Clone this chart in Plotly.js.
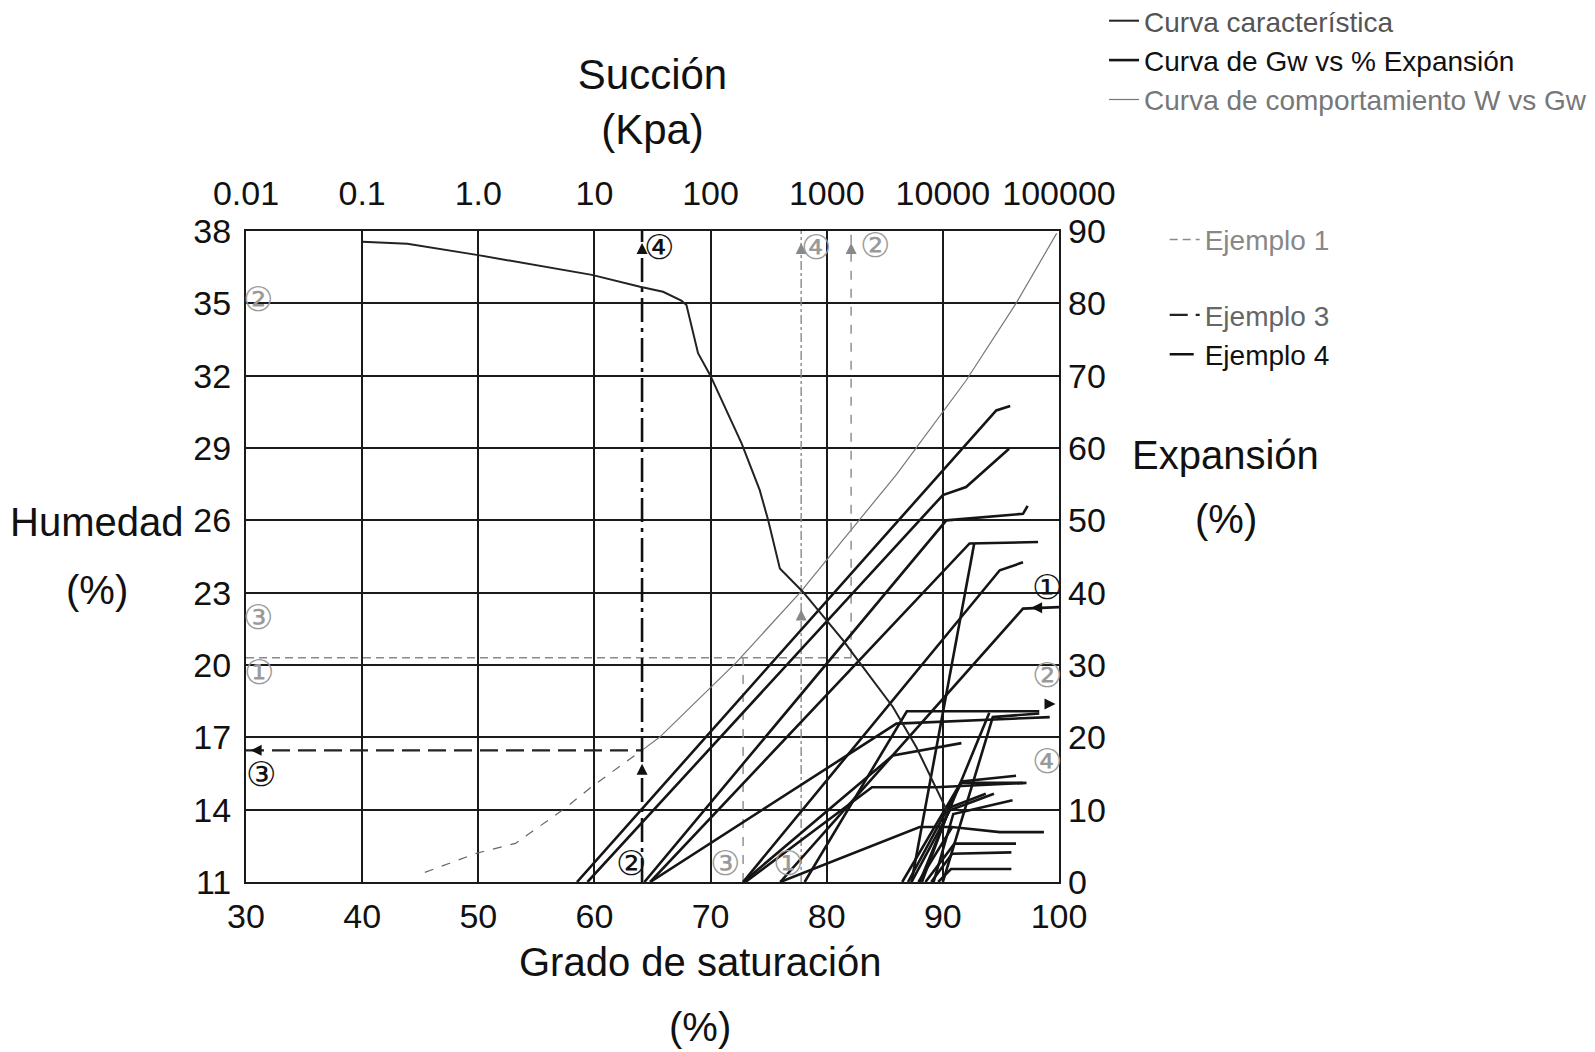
<!DOCTYPE html>
<html><head><meta charset="utf-8">
<script src="https://cdn.plot.ly/plotly-3.0.1.min.js"></script>
<style>html,body{margin:0;padding:0;background:#fff}#chart{width:1595px;height:1052px}</style>
</head><body><div id="chart"></div>
<script>
const FONT = '"Liberation Sans", Arial, sans-serif';
const CIRC = '"DejaVu Sans", "Noto Sans", sans-serif';

// ---- axes ----
const satTicks = [30, 40, 50, 60, 70, 80, 90, 100];
const humTicks = [11, 14, 17, 20, 23, 26, 29, 32, 35, 38];
const expTicks = [0, 10, 20, 30, 40, 50, 60, 70, 80, 90];
const suctionTicks = [0.01, 0.1, 1, 10, 100, 1000, 10000, 100000];
const suctionLabels = ['0.01', '0.1', '1.0', '10', '100', '1000', '10000', '100000'];

// ---- Curva característica (succión kPa vs humedad %) ----
const charSuction = [0.1, 0.245, 0.97, 9.5, 24.7, 39, 56, 62, 78, 99, 185, 265, 313, 395, 625, 1380, 1680, 3715, 5900, 9330, 11000];
const charHum = [37.55, 37.47, 37.01, 36.18, 35.69, 35.48, 35.11, 34.93, 32.93, 32.03, 29.19, 27.25, 26.01, 24.0, 23.03, 21.03, 20.47, 18.26, 16.6, 14.66, 13.9];

// ---- Curva de comportamiento W vs Gw (saturación % vs humedad %) ----
const wSatDash = [45.4, 49.9, 53.2, 57.3, 59.9, 62.2, 64.2];
const wHumDash = [11.4, 12.2, 12.6, 14.0, 15.0, 15.8, 16.5];
const wSat = [64.2, 65.6, 72.2, 77.7, 86.0, 92.0, 96.3, 99.8];
const wHum = [16.5, 17.0, 20.1, 23.0, 27.9, 31.8, 35.0, 37.9];

// ---- Curvas de Gw vs % Expansión (saturación % vs expansión %) ----
const gwSat = [
  [58.5, 94.6, 95.8],
  [59.4, 90.0, 92.0, 95.7],
  [64.3, 90.3, 96.9, 97.3],
  [64.8, 92.3, 98.2],
  [72.8, 94.9, 96.9],
  [76.0, 96.9, 100],
  [64.8, 86.0, 99.2],
  [72.8, 85.7, 91.6],
  [76.0, 88.0, 90.8],
  [78.1, 86.9, 98.3],
  [73.0, 83.9, 89.4, 97.2],
  [90.0, 94.3, 98.3],
  [87.3, 92.7],
  [89.6, 90.7, 95.9],
  [89.0, 90.8, 95.9],
  [88.5, 91.0, 96.3],
  [87.9, 90.8, 94.9, 98.7],
  [87.3, 90.6, 94.4],
  [88.2, 90.6, 93.7],
  [89.2, 90.9, 96.0],
  [86.5, 91.6, 96.3],
  [87.0, 91.6, 96.9],
  [88.0, 94.0]
];
const gwExp = [
  [0, 65.2, 65.8],
  [0, 53.5, 54.6, 59.9],
  [0, 50.0, 50.9, 52.0],
  [0, 46.8, 47.0],
  [0, 43.1, 44.2],
  [0, 37.8, 38.0],
  [0, 21.9, 22.8],
  [0, 17.5, 19.2],
  [0, 7.6, 7.6],
  [0, 23.6, 23.6],
  [0, 13.1, 13.1, 13.7],
  [0, 22.8, 23.3],
  [0, 46.8],
  [0, 1.8, 1.8],
  [0, 3.9, 4.1],
  [0, 5.3, 5.3],
  [0, 7.6, 6.9, 6.9],
  [0, 9.9, 12.2],
  [0, 10.3, 12.2],
  [0, 9.4, 11.3],
  [0, 13.9, 14.7],
  [0, 13.7, 13.7],
  [0, 23.4]
];

// ---- Ejemplos (saturación % vs humedad %) ----
const ej1Sat = [30, 82.1];   const ej1Hum = [20.3, 20.3];
const ej3Sat = [30, 64.1];   const ej3Hum = [16.46, 16.46];
const ej4Sat = [64.1, 64.1]; const ej4Hum = [11, 38];
const guideASat = [77.8, 77.8]; const guideAHum = [11, 38];
const guideBSat = [82.1, 82.1]; const guideBHum = [20.3, 38];
const guideCSat = [72.8, 72.8]; const guideCHum = [11, 20.3];

// arrows
const arrowSat = [64.1, 64.1, 30.4, 77.8, 77.8, 82.1];
const arrowHum = [37.5, 15.9, 16.46, 37.5, 22.3, 37.5];
const arrowSym = ['arrow-up', 'arrow-up', 'arrow-left', 'arrow-up', 'arrow-up', 'arrow-up'];
const arrowCol = ['#111', '#111', '#111', '#888', '#888', '#888'];
const arrowExpSat = [97.6, 99.7];
const arrowExp = [37.9, 24.6];
const arrowExpSym = ['arrow-left', 'arrow-right'];

// circled markers
const markText = ['④', '④', '②', '②', '③', '①', '③', '②', '③', '①', '①', '②', '④'];
const markSat = [65.6, 79.1, 84.2, 31.0, 31.0, 31.1, 31.25, 63.15, 71.2, 76.7, 99.0, 99.0, 99.0];
const markHum = [37.34, 37.34, 37.42, 35.2, 22.0, 19.7, 15.5, 11.77, 11.77, 11.77, 23.23, 19.57, 16.0];
const markBold = [true, false, false, false, false, false, true, true, false, false, true, false, false];

const traces = [];

traces.push({
  x: charSuction, y: charHum, xaxis: 'x2', yaxis: 'y', mode: 'lines',
  line: {color: '#222', width: 2},
  name: '<span style="color:#555">Curva característica</span>', legend: 'legend', showlegend: true
});

gwSat.forEach((s, i) => {
  traces.push({
    x: s, y: gwExp[i], xaxis: 'x', yaxis: 'y2', mode: 'lines',
    line: {color: '#151515', width: 2.6},
    name: '<span style="color:#111">Curva de Gw vs % Expansión</span>', legend: 'legend',
    legendgroup: 'gw', showlegend: i === 0
  });
});

traces.push({
  x: wSat, y: wHum, xaxis: 'x', yaxis: 'y', mode: 'lines',
  line: {color: '#777', width: 1.2},
  name: '<span style="color:#777">Curva de comportamiento W vs Gw</span>', legend: 'legend', showlegend: true
});
traces.push({
  x: wSatDash, y: wHumDash, xaxis: 'x', yaxis: 'y', mode: 'lines',
  line: {color: '#666', width: 1.2, dash: 'dash'}, showlegend: false
});

traces.push({
  x: ej1Sat, y: ej1Hum, xaxis: 'x', yaxis: 'y', mode: 'lines',
  line: {color: '#8a8a8a', width: 1.6, dash: '8px,5px'},
  name: '<span style="color:#888">Ejemplo 1</span>', legend: 'legend2', legendgroup: 'e1', showlegend: true
});
traces.push({
  x: ej3Sat, y: ej3Hum, xaxis: 'x', yaxis: 'y', mode: 'lines',
  line: {color: '#222', width: 2.2, dash: '18px,8px'},
  name: '<span style="color:#666">Ejemplo 3</span>', legend: 'legend2', legendgroup: 'e34', showlegend: true
});
traces.push({
  x: ej4Sat, y: ej4Hum, xaxis: 'x', yaxis: 'y', mode: 'lines',
  line: {color: '#111', width: 2.6, dash: '24px,6px,4px,6px'},
  name: '<span style="color:#111">Ejemplo 4</span>', legend: 'legend2', legendgroup: 'e34', showlegend: true
});
[[guideASat, guideAHum, 'dashdot'], [guideBSat, guideBHum, 'dash'], [guideCSat, guideCHum, 'dash']].forEach(g => {
  traces.push({x: g[0], y: g[1], xaxis: 'x', yaxis: 'y', mode: 'lines',
    line: {color: '#8a8a8a', width: 1.4, dash: g[2]}, showlegend: false});
});

traces.push({
  x: arrowSat, y: arrowHum, xaxis: 'x', yaxis: 'y', mode: 'markers',
  marker: {symbol: arrowSym, color: arrowCol, size: 11}, showlegend: false
});
traces.push({
  x: arrowExpSat, y: arrowExp, xaxis: 'x', yaxis: 'y2', mode: 'markers',
  marker: {symbol: arrowExpSym, color: '#111', size: 11}, showlegend: false
});

const annotations = markText.map((t, i) => ({
  x: markSat[i], y: markHum[i], xref: 'x', yref: 'y', text: t, showarrow: false,
  xanchor: 'center', yanchor: 'middle',
  font: {family: CIRC, size: 34, color: markBold[i] ? '#111' : '#9a9a9a'}
}));

const titleFont = {family: FONT, size: 40, color: '#111'};
[
  ['Humedad', -0.1838, 0.553], ['(%)', -0.1838, 0.4485],
  ['Expansión', 1.2051, 0.6564], ['(%)', 1.2051, 0.558],
  ['Grado de saturación', 0.5584, -0.1229], ['(%)', 0.5584, -0.2227]
].forEach(a => annotations.push({
  xref: 'paper', yref: 'paper', x: a[1], y: a[2], text: a[0], showarrow: false,
  xanchor: 'center', yanchor: 'middle', font: titleFont
}));

const tickFont = {family: FONT, size: 34, color: '#111'};
const layout = {
  width: 1595, height: 1052,
  margin: {l: 246, r: 536, t: 231, b: 170, pad: 0, autoexpand: false},
  paper_bgcolor: '#ffffff', plot_bgcolor: '#ffffff',
  font: {family: FONT, color: '#111'},
  xaxis: {
    range: [30, 100], tickvals: satTicks, showgrid: true, gridcolor: '#1a1a1a', gridwidth: 2,
    showline: true, linecolor: '#1a1a1a', linewidth: 2, mirror: true, ticks: '', zeroline: false,
    tickfont: tickFont, anchor: 'y', ticklabelstandoff: 3, tickangle: 0, automargin: false
  },
  xaxis2: {
    type: 'log', range: [-2, 5], overlaying: 'x', side: 'top', anchor: 'y',
    tickvals: suctionTicks, ticktext: suctionLabels, showgrid: false, showline: false, ticks: '', zeroline: false,
    tickfont: tickFont, ticklabelstandoff: 18, tickangle: 0, automargin: false,
    title: {text: 'Succión<br>(Kpa)', font: {family: FONT, size: 42, color: '#111'}, standoff: 16}
  },
  yaxis: {
    range: [11, 38], tickvals: humTicks, showgrid: true, gridcolor: '#1a1a1a', gridwidth: 2,
    showline: true, linecolor: '#1a1a1a', linewidth: 2, mirror: true, ticks: '', zeroline: false,
    tickfont: tickFont, anchor: 'x', ticklabelstandoff: 6, automargin: false
  },
  yaxis2: {
    range: [0, 90], tickvals: expTicks, overlaying: 'y', side: 'right', anchor: 'x',
    showgrid: false, showline: false, ticks: '', zeroline: false, tickfont: tickFont,
    ticklabelstandoff: 8, automargin: false
  },
  legend: {
    x: 1.0554, y: 1.361, xanchor: 'left', yanchor: 'top', bgcolor: 'rgba(0,0,0,0)',
    font: {family: FONT, size: 28, color: '#111'}, itemwidth: 30, traceorder: 'normal'
  },
  legend2: {
    x: 1.130, y: 1.025, xanchor: 'left', yanchor: 'top', bgcolor: 'rgba(0,0,0,0)',
    font: {family: FONT, size: 28, color: '#111'}, itemwidth: 30, traceorder: 'grouped', tracegroupgap: 36
  },
  annotations: annotations,
  showlegend: true
};

Plotly.newPlot('chart', traces, layout, {displayModeBar: false, staticPlot: true});
</script>
</body></html>
